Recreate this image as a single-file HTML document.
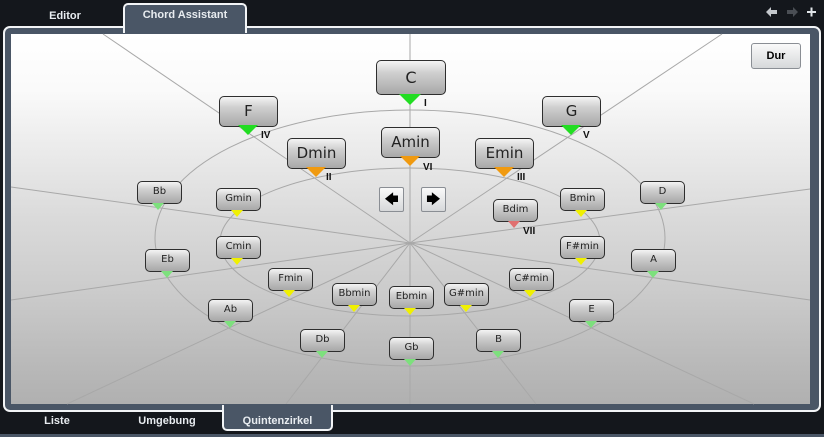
<!DOCTYPE html>
<html><head><meta charset="utf-8"><style>
*{margin:0;padding:0;box-sizing:border-box}
body{width:824px;height:437px;background:#14171c;position:relative;overflow:hidden;font-family:"Liberation Sans",sans-serif}
.tab{position:absolute;color:#e8ecf0;font-weight:bold;font-size:11px;text-align:center}
.frame{position:absolute;left:3px;top:26px;width:818px;height:386px;background:#4a5666;border:2px solid #f2f4f6;border-radius:7px}
.inner{position:absolute;left:11px;top:34px;width:799px;height:370px;background:linear-gradient(#ffffff 0%,#fafafa 15%,#ececec 30%,#dadada 50%,#cbcbcb 70%,#bababa 88%,#b0b0b0 100%)}
.n{position:absolute;border:1.3px solid #2e2e2e;border-radius:5px;background:linear-gradient(#f4f4f4,#d0d0d0 35%,#a8a8a8);color:#222;text-align:center;font-family:"DejaVu Sans",sans-serif}
.s{width:45px;height:23px;font-size:10px;line-height:20px}
.b{width:59px;height:31px;font-size:15px;line-height:29px}
.t{position:absolute;width:0;height:0;border-style:solid}
.r{position:absolute;font-weight:bold;font-size:10px;color:#111}
.btn{position:absolute;width:25px;height:25px;border:1px solid #8a8e94;border-radius:2px;background:linear-gradient(#fafafa,#d6d8da);font-size:14px;text-align:center;line-height:22px;color:#000}
</style></head><body>
<div class="tab" style="left:25px;top:10px;width:80px">Editor</div>
<div style="position:absolute;left:123px;top:3px;width:124px;height:30px;background:#4a5666;border:2px solid #f2f4f6;border-bottom:none;border-radius:5px 5px 0 0;z-index:2"></div>
<div class="tab" style="left:123px;top:9px;width:124px;z-index:3">Chord Assistant</div>
<svg style="position:absolute;left:762px;top:5px" width="60" height="16">
<path d="M4 7 L9 2 L9 5 L15 5 L15 9 L9 9 L9 12 Z" fill="#c4c8cc"/>
<path d="M36 7 L31 2 L31 5 L25 5 L25 9 L31 9 L31 12 Z" fill="#4a4e54"/>
<path d="M45 6 L54 6 L54 8 L45 8 Z M48.5 2.5 L50.5 2.5 L50.5 11.5 L48.5 11.5 Z" fill="#e0e4e8"/>
</svg>
<div class="frame"></div>
<div style="position:absolute;left:125px;top:26px;width:120px;height:3px;background:#4a5666;z-index:2"></div>
<div class="inner"></div>
<svg style="position:absolute;left:0;top:0" width="824" height="437">
<g stroke="#a8a8a8" stroke-width="1" fill="none">
<line x1="410" y1="243" x2="410" y2="34"/><line x1="410" y1="243" x2="410" y2="404"/>
<line x1="410" y1="243" x2="103" y2="34"/><line x1="410" y1="243" x2="722" y2="34"/>
<line x1="410" y1="243" x2="11" y2="187"/><line x1="410" y1="243" x2="810" y2="189"/>
<line x1="410" y1="243" x2="11" y2="300"/><line x1="410" y1="243" x2="810" y2="300"/>
<line x1="410" y1="243" x2="67" y2="404"/><line x1="410" y1="243" x2="754" y2="404"/>
<line x1="410" y1="243" x2="286" y2="404"/><line x1="410" y1="243" x2="536" y2="404"/>
<ellipse cx="410" cy="238" rx="255" ry="128"/>
<ellipse cx="410" cy="242" rx="190" ry="74"/>
</g></svg>
<div class="n b" style="left:376px;top:60px;width:70px;height:35px;line-height:33px;font-size:16px">C</div>
<div class="t" style="left:399px;top:94px;border-width:11px 11px 0 11px;border-color:#22dd22 transparent transparent"></div><div class="r" style="left:424px;top:98px">I</div>
<div class="n b" style="left:219px;top:96px">F</div>
<div class="t" style="left:238px;top:125px;border-width:10px 10px 0 10px;border-color:#22dd22 transparent transparent"></div><div class="r" style="left:261px;top:130px">IV</div>
<div class="n b" style="left:542px;top:96px">G</div>
<div class="t" style="left:561px;top:125px;border-width:10px 10px 0 10px;border-color:#22dd22 transparent transparent"></div><div class="r" style="left:583px;top:130px">V</div>
<div class="n b" style="left:287px;top:138px">Dmin</div>
<div class="t" style="left:306px;top:167px;border-width:10px 10px 0 10px;border-color:#f09a10 transparent transparent"></div><div class="r" style="left:326px;top:172px">II</div>
<div class="n b" style="left:381px;top:127px">Amin</div>
<div class="t" style="left:400px;top:156px;border-width:10px 10px 0 10px;border-color:#f09a10 transparent transparent"></div><div class="r" style="left:423px;top:162px">VI</div>
<div class="n b" style="left:475px;top:138px">Emin</div>
<div class="t" style="left:494px;top:167px;border-width:10px 10px 0 10px;border-color:#f09a10 transparent transparent"></div><div class="r" style="left:517px;top:172px">III</div>
<div class="n s" style="left:137px;top:181px">Bb</div><div class="t" style="left:152px;top:203px;border-width:7px 6px 0 6px;border-color:#7de07d transparent transparent"></div>
<div class="n s" style="left:640px;top:181px">D</div><div class="t" style="left:655px;top:203px;border-width:7px 6px 0 6px;border-color:#7de07d transparent transparent"></div>
<div class="n s" style="left:216px;top:188px">Gmin</div><div class="t" style="left:231px;top:210px;border-width:7px 6px 0 6px;border-color:#f0f000 transparent transparent"></div>
<div class="n s" style="left:560px;top:188px">Bmin</div><div class="t" style="left:575px;top:210px;border-width:7px 6px 0 6px;border-color:#f0f000 transparent transparent"></div>
<div class="n s" style="left:493px;top:199px">Bdim</div><div class="t" style="left:508px;top:221px;border-width:7px 6px 0 6px;border-color:#e07070 transparent transparent"></div><div class="r" style="left:523px;top:226px">VII</div>
<div class="n s" style="left:216px;top:236px">Cmin</div><div class="t" style="left:231px;top:258px;border-width:7px 6px 0 6px;border-color:#f0f000 transparent transparent"></div>
<div class="n s" style="left:560px;top:236px">F#min</div><div class="t" style="left:575px;top:258px;border-width:7px 6px 0 6px;border-color:#f0f000 transparent transparent"></div>
<div class="n s" style="left:145px;top:249px">Eb</div><div class="t" style="left:161px;top:271px;border-width:7px 6px 0 6px;border-color:#7de07d transparent transparent"></div>
<div class="n s" style="left:631px;top:249px">A</div><div class="t" style="left:647px;top:271px;border-width:7px 6px 0 6px;border-color:#7de07d transparent transparent"></div>
<div class="n s" style="left:268px;top:268px">Fmin</div><div class="t" style="left:283px;top:290px;border-width:7px 6px 0 6px;border-color:#f0f000 transparent transparent"></div>
<div class="n s" style="left:509px;top:268px">C#min</div><div class="t" style="left:524px;top:290px;border-width:7px 6px 0 6px;border-color:#f0f000 transparent transparent"></div>
<div class="n s" style="left:332px;top:283px">Bbmin</div><div class="t" style="left:348px;top:305px;border-width:7px 6px 0 6px;border-color:#f0f000 transparent transparent"></div>
<div class="n s" style="left:444px;top:283px">G#min</div><div class="t" style="left:460px;top:305px;border-width:7px 6px 0 6px;border-color:#f0f000 transparent transparent"></div>
<div class="n s" style="left:389px;top:286px">Ebmin</div><div class="t" style="left:404px;top:308px;border-width:7px 6px 0 6px;border-color:#f0f000 transparent transparent"></div>
<div class="n s" style="left:208px;top:299px">Ab</div><div class="t" style="left:224px;top:321px;border-width:7px 6px 0 6px;border-color:#7de07d transparent transparent"></div>
<div class="n s" style="left:569px;top:299px">E</div><div class="t" style="left:585px;top:321px;border-width:7px 6px 0 6px;border-color:#7de07d transparent transparent"></div>
<div class="n s" style="left:300px;top:329px">Db</div><div class="t" style="left:316px;top:351px;border-width:7px 6px 0 6px;border-color:#7de07d transparent transparent"></div>
<div class="n s" style="left:476px;top:329px">B</div><div class="t" style="left:492px;top:351px;border-width:7px 6px 0 6px;border-color:#7de07d transparent transparent"></div>
<div class="n s" style="left:389px;top:337px">Gb</div><div class="t" style="left:404px;top:359px;border-width:7px 6px 0 6px;border-color:#7de07d transparent transparent"></div>
<div class="btn" style="left:379px;top:187px">&#129092;</div>
<div class="btn" style="left:421px;top:187px">&#129094;</div>
<div class="btn" style="left:751px;top:43px;width:50px;height:26px;font-size:11px;font-weight:bold;line-height:24px;border-radius:3px">Dur</div>
<div style="position:absolute;left:222px;top:405px;width:111px;height:26px;background:#4a5666;border:2px solid #f2f4f6;border-top:none;border-radius:0 0 5px 5px"></div>
<div style="position:absolute;left:224px;top:404px;width:107px;height:8px;background:#4a5666"></div>
<div class="tab" style="left:17px;top:415px;width:80px">Liste</div>
<div class="tab" style="left:127px;top:415px;width:80px">Umgebung</div>
<div class="tab" style="left:222px;top:415px;width:111px">Quintenzirkel</div>
<div style="position:absolute;left:0;top:434px;width:824px;height:3px;background:#4a5666"></div>
</body></html>
